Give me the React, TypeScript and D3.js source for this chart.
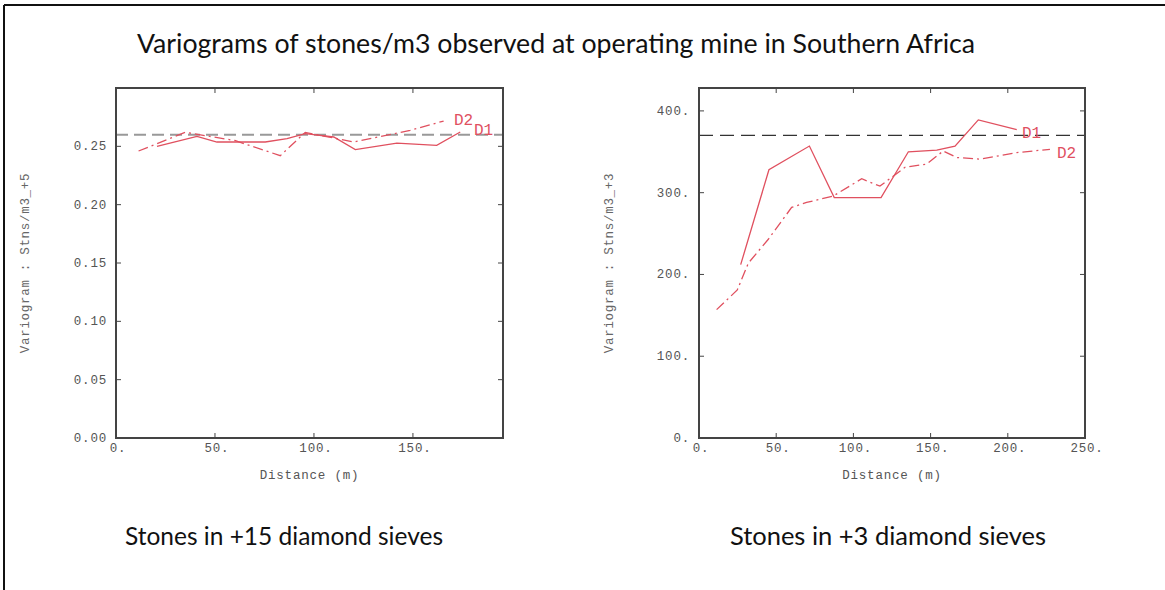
import React from "react";
import * as d3 from "d3";

// ---- Data ----
const leftD1X = [20.7, 40.9, 51, 75.4, 86.4, 95.6, 110, 120.9, 141.9, 162, 173.9];
const leftD1Y = [0.25, 0.2586, 0.2537, 0.2537, 0.2566, 0.2609, 0.258, 0.2472, 0.2528, 0.2509, 0.2623];
const leftD2X = [11.4, 35, 60, 83, 95.6, 120, 148.6, 165.5];
const leftD2Y = [0.246, 0.262, 0.255, 0.242, 0.262, 0.2537, 0.2637, 0.2717];
const leftSill = 0.26;

const rightD1X = [27, 45.3, 71.5, 87.6, 117.9, 135.6, 154, 165.8, 180.9, 205.8];
const rightD1Y = [212, 328, 357, 294, 294, 350, 352, 357, 389, 377];
const rightD2X = [11.4, 24.8, 32, 44.9, 60, 69.7, 87, 105.4, 117.2, 133.4, 147.5, 158.2, 166.9, 182, 205.8, 227.3];
const rightD2Y = [157, 181, 214, 243, 282, 288, 296, 317, 308, 331, 335, 351, 343, 341, 349, 353];
const rightSill = 370;

const leftXTicks = [0, 50, 100, 150];
const leftYTicks = [0, 0.05, 0.1, 0.15, 0.2, 0.25];
const rightXTicks = [0, 50, 100, 150, 200, 250];
const rightYTicks = [0, 100, 200, 300, 400];

const title = "Variograms of stones/m3 observed at operating mine in Southern Africa";
const leftCaption = "Stones in +15 diamond sieves";
const rightCaption = "Stones in +3 diamond sieves";
const leftYTitle = "Variogram : Stns/m3_+5";
const rightYTitle = "Variogram : Stns/m3_+3";
const xTitle = "Distance (m)";

const RED = "#e0505f";
const MONO = "'Liberation Mono', 'DejaVu Sans Mono', monospace";
const SANS = "Lato, 'Open Sans', sans-serif";

type PanelProps = {
  x0: number; x1: number; y0: number; y1: number;
  xDomain: [number, number]; yDomain: [number, number];
  xTicks: number[]; yTicks: number[];
  xFmt: (v: number) => string; yFmt: (v: number) => string;
  d1x: number[]; d1y: number[]; d2x: number[]; d2y: number[];
  sill: number; sillColor: string; sillDash: string; sillWidth: number;
  yTitle: string; yTitleX: number;
  labels: { d1: [number, number]; d2: [number, number] };
};

function Panel(p: PanelProps) {
  const xs = d3.scaleLinear().domain(p.xDomain).range([p.x0, p.x1]);
  const ys = d3.scaleLinear().domain(p.yDomain).range([p.y1, p.y0]);
  const line = d3.line<[number, number]>().x(d => xs(d[0])).y(d => ys(d[1]));
  const d1 = p.d1x.map((x, i) => [x, p.d1y[i]] as [number, number]);
  const d2 = p.d2x.map((x, i) => [x, p.d2y[i]] as [number, number]);
  const tl = 5;
  return (
    <g>
      <line x1={p.x0} x2={p.x1} y1={ys(p.sill)} y2={ys(p.sill)} stroke={p.sillColor}
        strokeWidth={p.sillWidth} strokeDasharray={p.sillDash} />
      <path d={line(d2) || ""} fill="none" stroke={RED} strokeWidth={1.3} strokeDasharray="10,4,2,4" />
      <path d={line(d1) || ""} fill="none" stroke={RED} strokeWidth={1.3} />
      <rect x={p.x0} y={p.y0} width={p.x1 - p.x0} height={p.y1 - p.y0} fill="none" stroke="#444" strokeWidth={2} />
      {p.xTicks.map(t => (
        <g key={"xt" + t}>
          <line x1={xs(t)} x2={xs(t)} y1={p.y1} y2={p.y1 - tl} stroke="#444" strokeWidth={1} />
          <line x1={xs(t)} x2={xs(t)} y1={p.y0} y2={p.y0 + tl} stroke="#444" strokeWidth={1} />
          <text x={xs(t) + 2} y={p.y1 + 14} textAnchor="middle" fontFamily={MONO} fontSize={12.5}
            letterSpacing={0.8} fill="#555">{p.xFmt(t)}</text>
        </g>
      ))}
      {p.yTicks.map(t => (
        <g key={"yt" + t}>
          <line x1={p.x0} x2={p.x0 + tl} y1={ys(t)} y2={ys(t)} stroke="#444" strokeWidth={1} />
          <line x1={p.x1} x2={p.x1 - tl} y1={ys(t)} y2={ys(t)} stroke="#444" strokeWidth={1} />
          <text x={p.x0 - 9} y={ys(t) + 4} textAnchor="end" fontFamily={MONO} fontSize={12.5}
            letterSpacing={0.8} fill="#555">{p.yFmt(t)}</text>
        </g>
      ))}
      <text x={(p.x0 + p.x1) / 2} y={479} textAnchor="middle" fontFamily={MONO} fontSize={12.5}
        letterSpacing={0.8} fill="#555">{xTitle}</text>
      <text transform={`translate(${p.yTitleX},${(p.y0 + p.y1) / 2}) rotate(-90)`} textAnchor="middle"
        fontFamily={MONO} fontSize={12.5} letterSpacing={0.7} fill="#666">{p.yTitle}</text>
      <text x={p.labels.d1[0]} y={p.labels.d1[1]} fontFamily={MONO} fontSize={16} fill={RED}>D1</text>
      <text x={p.labels.d2[0]} y={p.labels.d2[1]} fontFamily={MONO} fontSize={16} fill={RED}>D2</text>
    </g>
  );
}

export default function App() {
  return (
    <svg width={1165} height={590} style={{ position: "absolute", left: 0, top: 0, background: "#fff" }}>
      <rect x={0} y={0} width={1165} height={590} fill="#fff" />
      <line x1={4} x2={4} y1={5} y2={590} stroke="#111" strokeWidth={2} />
      <line x1={4} x2={1165} y1={5} y2={5} stroke="#111" strokeWidth={2} />
      <text x={556} y={53} textAnchor="middle" fontFamily={SANS} fontSize={26.7} fill="#111">{title}</text>
      <Panel x0={116} x1={503} y0={88} y1={438} xDomain={[0, 195.5]} yDomain={[0, 0.3]}
        xTicks={leftXTicks} yTicks={leftYTicks}
        xFmt={v => v + "."} yFmt={v => v.toFixed(2)}
        d1x={leftD1X} d1y={leftD1Y} d2x={leftD2X} d2y={leftD2Y}
        sill={leftSill} sillColor="#999" sillDash="12,6" sillWidth={2}
        yTitle={leftYTitle} yTitleX={29}
        labels={{ d2: [454, 125], d1: [474, 135] }} />
      <Panel x0={699} x1={1085} y0={88} y1={438} xDomain={[0, 250]} yDomain={[0, 428]}
        xTicks={rightXTicks} yTicks={rightYTicks}
        xFmt={v => v + "."} yFmt={v => v + "."}
        d1x={rightD1X} d1y={rightD1Y} d2x={rightD2X} d2y={rightD2Y}
        sill={rightSill} sillColor="#333" sillDash="14,7" sillWidth={1.2}
        yTitle={rightYTitle} yTitleX={613}
        labels={{ d1: [1022, 138], d2: [1057, 158] }} />
      <text x={284} y={545} textAnchor="middle" fontFamily={SANS} fontSize={24.5} fill="#111">{leftCaption}</text>
      <text x={888} y={545} textAnchor="middle" fontFamily={SANS} fontSize={25.5} fill="#111">{rightCaption}</text>
    </svg>
  );
}
